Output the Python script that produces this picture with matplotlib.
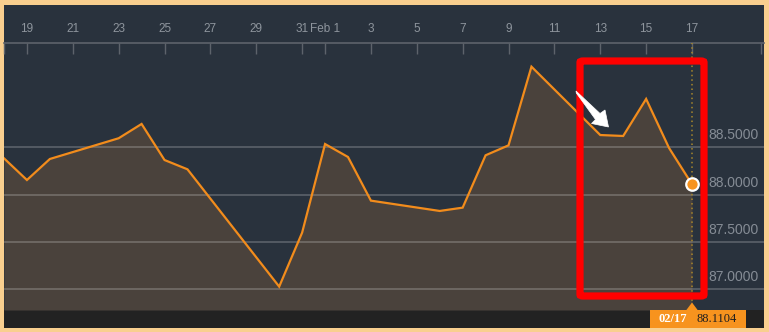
import matplotlib
matplotlib.use("Agg")
import matplotlib.pyplot as plt
import matplotlib.dates as mdates
from matplotlib.patches import Rectangle, FancyBboxPatch, Polygon
import pandas as pd

# ---- data ----
dates = ["2017-01-18", "2017-01-19", "2017-01-20", "2017-01-23", "2017-01-24",
         "2017-01-25", "2017-01-26", "2017-01-30", "2017-01-31", "2017-02-01",
         "2017-02-02", "2017-02-03", "2017-02-06", "2017-02-07", "2017-02-08",
         "2017-02-09", "2017-02-10", "2017-02-13", "2017-02-14", "2017-02-15",
         "2017-02-16", "2017-02-17"]
values = [88.384, 88.155, 88.377, 88.596, 88.747, 88.366, 88.268, 87.029,
          87.599, 88.535, 88.398, 87.937, 87.828, 87.863, 88.416, 88.521,
          89.352, 88.630, 88.620, 89.011, 88.493, 88.1104]
tick_dates = ["2017-01-18", "2017-01-19", "2017-01-21", "2017-01-23", "2017-01-25",
              "2017-01-27", "2017-01-29", "2017-01-31", "2017-02-01", "2017-02-03",
              "2017-02-05", "2017-02-07", "2017-02-09", "2017-02-11", "2017-02-13",
              "2017-02-15", "2017-02-17", "2017-02-20"]
tick_labels = ["", "19", "21", "23", "25", "27", "29", "31", "Feb 1", "3", "5",
               "7", "9", "11", "13", "15", "17", ""]
y_ticks = [87.0, 87.5, 88.0, 88.5]
y_labels = ["87.0000", "87.5000", "88.0000", "88.5000"]

W, H = 769, 332
NAVY = "#29323d"
FILL = "#4a423c"
ORANGE = "#f28c1c"

x = mdates.date2num(pd.to_datetime(dates))
xt = mdates.date2num(pd.to_datetime(tick_dates))

fig = plt.figure(figsize=(W / 100, H / 100), dpi=100)
fig.patch.set_facecolor("#f9cf8f")

def fx(px):
    return px / W

def fy(py):
    return (H - py) / H

# inner dark background
fig.patches.append(Rectangle((fx(4), fy(328)), fx(760), (328 - 5) / H,
                             transform=fig.transFigure, facecolor=NAVY,
                             edgecolor="none", zorder=-10))
# bottom dark bar
fig.patches.append(Rectangle((fx(4), fy(328)), fx(760), (328 - 310) / H,
                             transform=fig.transFigure, facecolor="#222222",
                             edgecolor="none", zorder=-5))

ax = fig.add_axes([fx(4), fy(310), fx(760), (310 - 43) / H])
ax.set_facecolor(NAVY)
x0 = mdates.date2num(pd.Timestamp("2017-01-18"))
x1 = mdates.date2num(pd.Timestamp("2017-02-20")) + 0.14
ax.set_xlim(x0, x1)
ybot, ytop = 86.782, 89.602
ax.set_ylim(ybot, ytop)

ax.fill_between(x, values, ybot, color=FILL, zorder=1, linewidth=0)
ax.plot(x, values, color=ORANGE, lw=1.6, zorder=3, solid_joinstyle="miter")
for v in y_ticks:
    ax.axhline(v, color="white", alpha=0.23, lw=1.2, zorder=2)

ax.axvline(x[-1], color="#a8872c", ls=(0, (1, 2)), lw=1.1, zorder=4)
ax.plot(x[-1], values[-1], "o", ms=9, mfc="#f7931e", mec="white", mew=1.6,
        zorder=6, clip_on=False)

# y labels
for v, lab in zip(y_ticks, y_labels):
    ax.annotate(lab, xy=((708 - 4) / 760, v), xycoords=("axes fraction", "data"),
                xytext=(0, 8.6), textcoords="offset points", ha="left",
                va="center", color="#858c95", fontsize=10,
                family=["Liberation Sans Narrow", "Liberation Sans"], zorder=7)

# top axis
ax.xaxis.tick_top()
ax.set_xticks(xt)
ax.set_xticklabels(tick_labels, family="Liberation Sans", fontsize=8.5,
                   color="#8e959d")
ax.tick_params(axis="x", direction="in", length=8, width=1, color="#5d636b",
               pad=6)
ax.set_yticks([])
for s in ["left", "right", "bottom"]:
    ax.spines[s].set_visible(False)
ax.spines["top"].set_color("#5d636b")
ax.spines["top"].set_linewidth(1.2)

# red highlight rectangle
fig.patches.append(FancyBboxPatch((fx(580), fy(296)), fx(704 - 580), (296 - 61) / H,
                                  boxstyle="round,pad=0,rounding_size=0.004",
                                  transform=fig.transFigure, facecolor="none",
                                  edgecolor="#ff0000", lw=5.2, zorder=10))
# white arrow
arrow_px = [(576, 91), (600, 113.5), (605, 110), (608.5, 127),
            (591.5, 123.5), (595.5, 119.5), (576.3, 93)]
fig.patches.append(Polygon([(fx(a), fy(b)) for a, b in arrow_px], closed=True,
                           transform=fig.transFigure, facecolor="white",
                           edgecolor="white", lw=0.5, zorder=11))

# bottom orange value box
fig.patches.append(Rectangle((fx(650), fy(328)), fx(96), (328 - 310) / H,
                             transform=fig.transFigure, facecolor="#f7931e",
                             edgecolor="none", zorder=12))
fig.patches.append(Polygon([(fx(686), fy(310.5)), (fx(692), fy(302.5)),
                            (fx(698), fy(310.5))], closed=True,
                           transform=fig.transFigure, facecolor="#f7931e",
                           edgecolor="none", zorder=12))
last = pd.Timestamp(dates[-1])
fig.text(fx(673), fy(319), last.strftime("%m/%d"), color="white",
         fontweight="bold", fontsize=9, family="Liberation Serif",
         ha="center", va="center", zorder=13)
fig.text(fx(717), fy(319), f"{values[-1]:.4f}", color="#1e1e1e",
         fontsize=9, family="Liberation Serif", ha="center", va="center",
         zorder=13)

fig.savefig("out.png", dpi=100, facecolor=fig.get_facecolor())
